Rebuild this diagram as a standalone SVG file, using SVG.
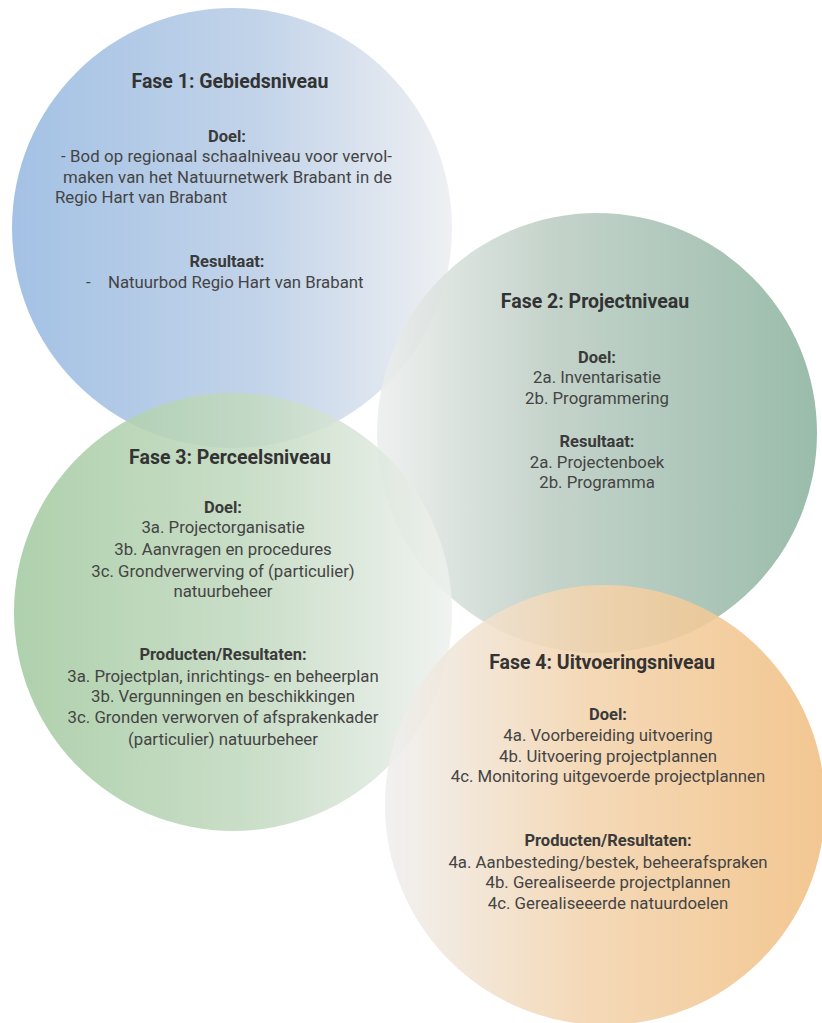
<svg xmlns="http://www.w3.org/2000/svg" width="822" height="1023" viewBox="0 0 822 1023">
<defs>
<linearGradient id="g1" x1="0" y1="0" x2="1" y2="0"><stop offset="0" stop-color="#97b9e1"/><stop offset="0.55" stop-color="#b9cde6"/><stop offset="1" stop-color="#eceef1"/></linearGradient>
<linearGradient id="g2" x1="0" y1="0" x2="1" y2="0"><stop offset="0" stop-color="#eceeed"/><stop offset="0.4" stop-color="#bccdc3"/><stop offset="1" stop-color="#8cb39f"/></linearGradient>
<linearGradient id="g3" x1="0" y1="0" x2="1" y2="0"><stop offset="0" stop-color="#a4caa1"/><stop offset="0.55" stop-color="#c3dac1"/><stop offset="1" stop-color="#eef1ee"/></linearGradient>
<linearGradient id="g4" x1="0" y1="0" x2="1" y2="0"><stop offset="0" stop-color="#efefef"/><stop offset="0.45" stop-color="#f3d4ae"/><stop offset="1" stop-color="#f1bf82"/></linearGradient>
<style>
.c{fill-opacity:0.88}
text{font-family:Roboto,"Liberation Sans",sans-serif;fill:#3a3a3a;text-anchor:middle}
.t{font-size:19.5px;font-weight:bold;fill:#333}
.h{font-size:16.5px;font-weight:bold;fill:#3a3a3a}
.b{font-size:16.8px;fill:#444}
.l{text-anchor:start}
</style>
</defs>
<g id="fase1">
<circle class="c" cx="232" cy="228" r="220" fill="url(#g1)"/>
<text class="t" x="230" y="88">Fase 1: Gebiedsniveau</text>
<text class="h" x="227" y="142">Doel:</text>
<text class="b l" x="61" y="162" textLength="331" lengthAdjust="spacing">- Bod op regionaal schaalniveau voor vervol-</text>
<text class="b l" x="63" y="183" textLength="329" lengthAdjust="spacing">maken van het Natuurnetwerk Brabant in de</text>
<text class="b l" x="55" y="203">Regio Hart van Brabant</text>
<text class="h" x="227" y="267">Resultaat:</text>
<text class="b l" x="86" y="288">-</text>
<text class="b l" x="108" y="288">Natuurbod Regio Hart van Brabant</text>
</g>
<g id="fase2">
<circle class="c" cx="597" cy="433" r="220" fill="url(#g2)"/>
<text class="t" x="595" y="308">Fase 2: Projectniveau</text>
<text class="h" x="597" y="363">Doel:</text>
<text class="b" x="597" y="383">2a. Inventarisatie</text>
<text class="b" x="597" y="404">2b. Programmering</text>
<text class="h" x="597" y="447">Resultaat:</text>
<text class="b" x="597" y="468">2a. Projectenboek</text>
<text class="b" x="597" y="488">2b. Programma</text>
</g>
<g id="fase3">
<circle class="c" cx="233" cy="612" r="219" fill="url(#g3)"/>
<text class="t" x="230" y="464">Fase 3: Perceelsniveau</text>
<text class="h" x="223" y="513">Doel:</text>
<text class="b" x="223" y="533">3a. Projectorganisatie</text>
<text class="b" x="223" y="555">3b. Aanvragen en procedures</text>
<text class="b" x="223" y="577">3c. Grondverwerving of (particulier)</text>
<text class="b" x="223" y="597">natuurbeheer</text>
<text class="h" x="223" y="660">Producten/Resultaten:</text>
<text class="b" x="223" y="682">3a. Projectplan, inrichtings- en beheerplan</text>
<text class="b" x="223" y="702">3b. Vergunningen en beschikkingen</text>
<text class="b" x="223" y="723">3c. Gronden verworven of afsprakenkader</text>
<text class="b" x="223" y="745">(particulier) natuurbeheer</text>
</g>
<g id="fase4">
<circle class="c" cx="605" cy="805" r="220" fill="url(#g4)"/>
<text class="t" x="602" y="669">Fase 4: Uitvoeringsniveau</text>
<text class="h" x="608" y="720">Doel:</text>
<text class="b" x="608" y="741">4a. Voorbereiding uitvoering</text>
<text class="b" x="608" y="762">4b. Uitvoering projectplannen</text>
<text class="b" x="608" y="782">4c. Monitoring uitgevoerde projectplannen</text>
<text class="h" x="608" y="846">Producten/Resultaten:</text>
<text class="b" x="608" y="868">4a. Aanbesteding/bestek, beheerafspraken</text>
<text class="b" x="608" y="888">4b. Gerealiseerde projectplannen</text>
<text class="b" x="608" y="909">4c. Gerealiseeerde natuurdoelen</text>
</g>
<g id="connectors"/>
</svg>
